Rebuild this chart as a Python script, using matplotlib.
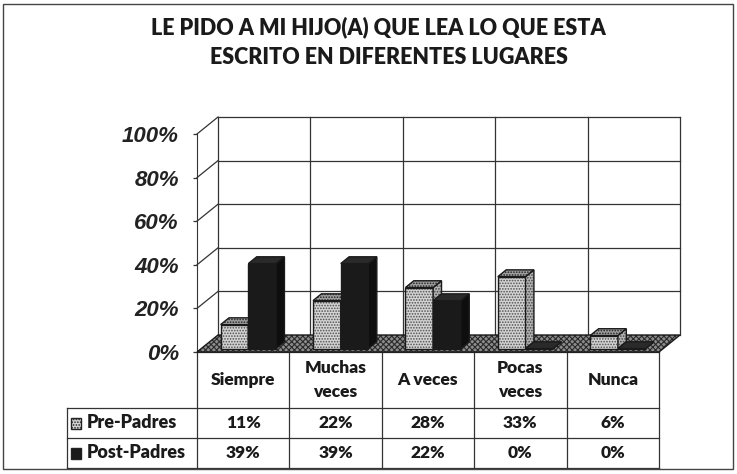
import numpy as np
import matplotlib.pyplot as plt
from matplotlib.patches import Polygon, Rectangle
from matplotlib.transforms import IdentityTransform

# data
categories = ['Siempre', 'Muchas\nveces', 'A veces', 'Pocas\nveces', 'Nunca']
series = ['Pre-Padres', 'Post-Padres']
pre_padres = [11, 22, 28, 33, 6]
post_padres = [39, 39, 22, 0, 0]
yticks = [0, 20, 40, 60, 80, 100]
title = ['LE PIDO A MI HIJO(A) QUE LEA LO QUE ESTA', 'ESCRITO EN DIFERENTES LUGARES']

W, H = 737, 474
DX, DY = 21, 17          # depth offset of back wall, in pixels
FONT = 'Lato'
WEIGHT = 'heavy'
INK = '#1a1a1a'

plt.rcParams['hatch.linewidth'] = 0.8


def box(x0, y0, x1, y1):
    """pixel box (top-left origin) -> figure fraction rect"""
    return [x0 / W, 1 - y1 / H, (x1 - x0) / W, (y1 - y0) / H]


fig = plt.figure(figsize=(W / 100, H / 100), dpi=100)
ax = fig.add_axes(box(197, 134, 659, 352))
ax.set_xlim(0, len(categories))
ax.set_ylim(0, 100)
ax.patch.set_visible(False)


def pt(x, y, d):
    """data point pushed back by depth fraction d -> display pixels"""
    px, py = ax.transData.transform((x, y))
    return (px + d * DX, py + d * DY)


def face(pts, fc, hatch=None, hc='#555555', z=2, lw=1.0):
    if hatch:
        fig.add_artist(Polygon(pts, closed=True, facecolor=fc, edgecolor=hc, hatch=hatch,
                               linewidth=0, transform=IdentityTransform(), zorder=z))
        fc = 'none'
    fig.add_artist(Polygon(pts, closed=True, facecolor=fc, edgecolor=INK,
                           linewidth=lw, transform=IdentityTransform(), zorder=z))


def line(p, q, lw=0.9, z=1):
    fig.add_artist(plt.Line2D([p[0], q[0]], [p[1], q[1]], color='#333333', lw=lw,
                              transform=IdentityTransform(), zorder=z))


n = len(categories)

# back wall grid and side wall ledges
for t in yticks[1:]:
    line(pt(0, t, 1), pt(n, t, 1))
    line(pt(0, t, 0), pt(0, t, 1))
for i in range(n + 1):
    line(pt(i, 0, 1), pt(i, 100, 1))

# floor
face([pt(0, 0, 0), pt(n, 0, 0), pt(n, 0, 1), pt(0, 0, 1)], '#8c8c8c',
     hatch='xxxxxx', hc='#2a2a2a', z=2)

# bars
bw, off = 0.30, 0.21
d0, d1 = 0.2, 0.6
styles = [
    dict(front=('#d4d4d4', '......'), top=('#a0a0a0', '......'), side=('#b4b4b4', '......')),
    dict(front=('#1a1a1a', None), top=('#2a2a2a', None), side=('#0e0e0e', None)),
]
z = 3
for i in range(n):
    for s, vals in enumerate([pre_padres, post_padres]):
        v = vals[i]
        x0 = i + off + s * bw
        x1 = x0 + bw
        st = styles[s]
        face([pt(x0, 0, d0), pt(x1, 0, d0), pt(x1, v, d0), pt(x0, v, d0)],
             st['front'][0], hatch=st['front'][1], hc='#505050', z=z)
        face([pt(x1, 0, d0), pt(x1, 0, d1), pt(x1, v, d1), pt(x1, v, d0)],
             st['side'][0], hatch=st['side'][1], hc='#444444', z=z)
        face([pt(x0, v, d0), pt(x1, v, d0), pt(x1, v, d1), pt(x0, v, d1)],
             st['top'][0], hatch=st['top'][1], hc='#222222', z=z)
        z += 1

# front value axis
for side in ['top', 'right', 'bottom']:
    ax.spines[side].set_visible(False)
ax.spines['left'].set_color('#333333')
ax.spines['left'].set_zorder(50)
ax.set_xticks([])
ax.set_yticks(yticks)
ax.set_yticklabels([f'{t}%' for t in yticks])
ax.tick_params(axis='y', length=3, width=0.9, color='#333333', pad=10)
for lab in ax.get_yticklabels():
    lab.set_fontfamily('Liberation Sans')
    lab.set_fontsize(16)
    lab.set_fontweight('bold')
    lab.set_fontstyle('italic')
    lab.set_color('#222222')

# data table under the chart
lab_w = (197 - 67) / (659 - 197) * n
tab = fig.add_axes(box(67, 352, 659, 468))
tab.set_xlim(-lab_w, n)
tab.set_ylim(0, 116)
tab.axis('off')
rows = [116, 60, 30, 0]   # header top, header bottom, row split, bottom
kw = dict(color='#333333', lw=0.9, clip_on=False)
for i in range(n + 1):
    tab.plot([i, i], [rows[3], rows[0]], **kw)
tab.plot([-lab_w, -lab_w], [rows[3], rows[1]], **kw)
tab.plot([0, n], [rows[0], rows[0]], **kw)
for r in rows[1:]:
    tab.plot([-lab_w, n], [r, r], **kw)

tfont = dict(family=FONT, fontweight=WEIGHT, color=INK, ha='center', va='center')
for i, c in enumerate(categories):
    tab.text(i + 0.5, (rows[0] + rows[1]) / 2, c, fontsize=12.5, linespacing=1.65, **tfont)
for r, vals in enumerate([pre_padres, post_padres]):
    yc = (rows[r + 1] + rows[r + 2]) / 2
    for i, v in enumerate(vals):
        tab.text(i + 0.5, yc, f'{v}%', fontsize=12.5, **tfont)
    # legend key + series name
    kx = -lab_w + 0.04
    tab.add_patch(Rectangle((kx, yc - 5.5), 0.11, 11, facecolor=styles[r]['front'][0],
                            hatch=styles[r]['front'][1], edgecolor='#222222', lw=1,
                            clip_on=False))
    tab.text(kx + 0.17, yc, series[r], family=FONT, fontweight=WEIGHT, color=INK,
             fontsize=13, ha='left', va='center')

# title
fig.text(378 / W, 1 - 27 / H, title[0], family=FONT, fontweight=WEIGHT, fontsize=15.5,
         color=INK, ha='center', va='center')
fig.text(389 / W, 1 - 57 / H, title[1], family=FONT, fontweight=WEIGHT, fontsize=15.5,
         color=INK, ha='center', va='center')

# outer border
fig.add_artist(Rectangle((3 / W, 1 - 469 / H), 730 / W, 465 / H, fill=False,
                         edgecolor='#444444', lw=1.0, transform=fig.transFigure))

fig.savefig('out.png', dpi=100, facecolor='white')
